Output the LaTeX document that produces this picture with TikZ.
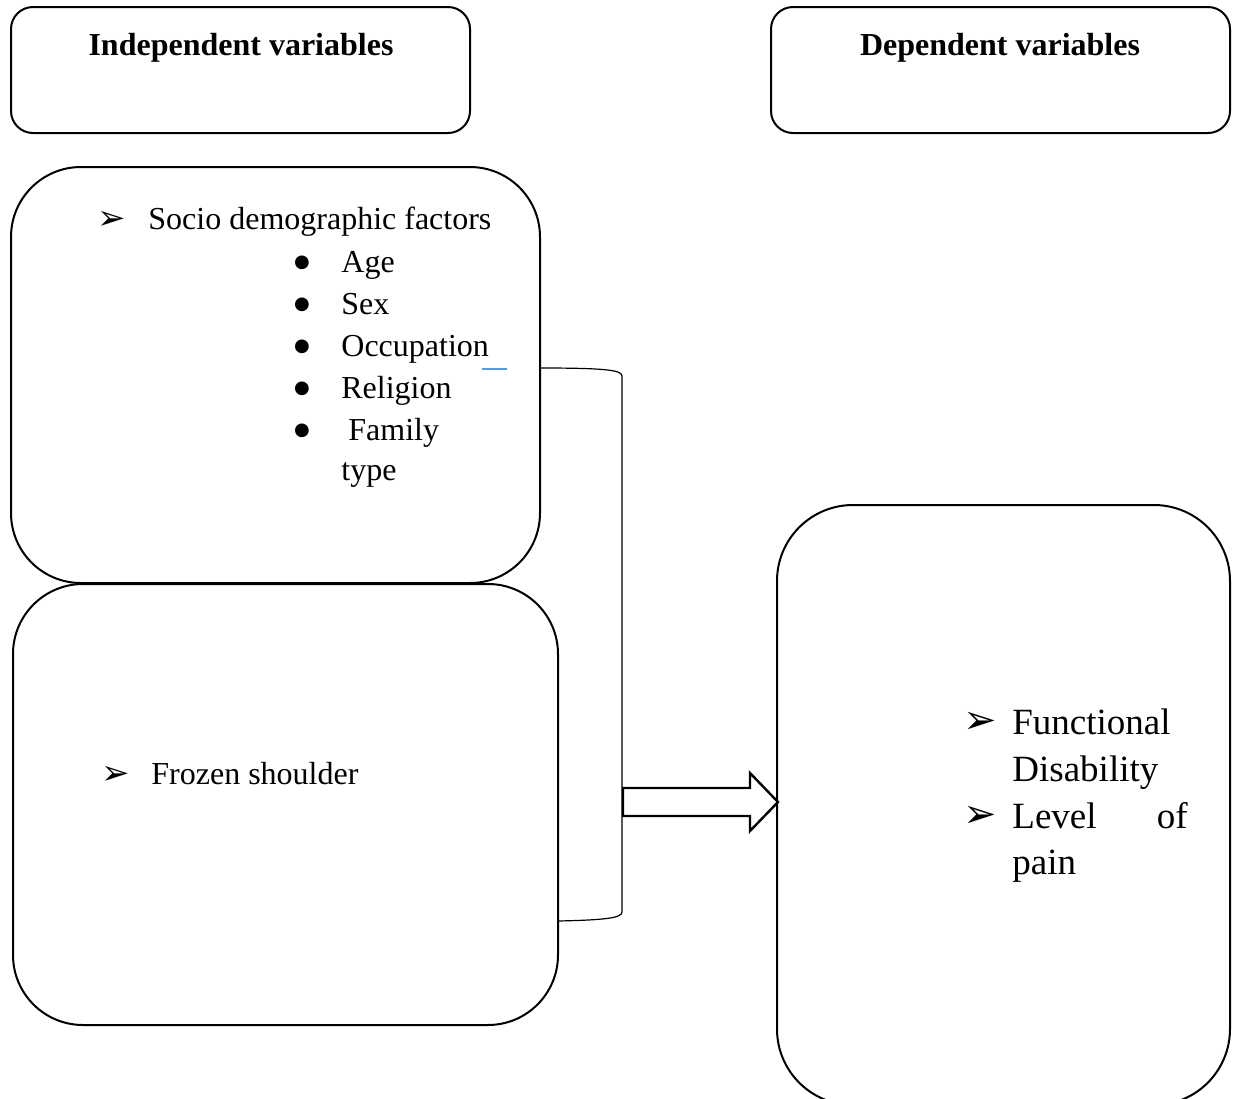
\documentclass[tikz,border=0pt]{standalone}
\usepackage{fontspec}
\setmainfont{Liberation Serif}
\newfontfamily\dingfont{DejaVu Sans}
\definecolor{strayblue}{HTML}{5B9BD5}
\newcommand{\arrowbul}{{\dingfont\fontsize{17pt}{17pt}\selectfont ➢}}
\newcommand{\bigarrowbul}{{\dingfont\fontsize{20pt}{20pt}\selectfont ➢}}
\newcommand{\dotbul}{{\dingfont\fontsize{9pt}{9pt}\selectfont ●}}
\begin{document}
\begin{tikzpicture}[x=0.5pt,y=-0.5pt,
  boxstyle/.style={draw, line width=1pt, inner sep=0pt, outer sep=0pt},
  smalltext/.style={font=\fontsize{16pt}{21pt}\selectfont, inner sep=0pt, anchor=base west},
  headtext/.style={font=\fontsize{16pt}{21pt}\selectfont\bfseries, inner sep=0pt, anchor=base},
  bigtext/.style={font=\fontsize{18.5pt}{23.5pt}\selectfont, inner sep=0pt, anchor=base west},
  bulletstyle/.style={inner sep=0pt, anchor=center},
  bracketline/.style={line width=0.6pt},
  blockarrow/.style={draw, line width=1.2pt, fill=white}]
\useasboundingbox (0,0) rectangle (1239,1099);
\clip (0,0) rectangle (1239,1099);
% header boxes
\node[boxstyle, rounded corners=11pt, minimum width=229.5pt, minimum height=63pt] (indep) at (240.5,70) {};
\node[boxstyle, rounded corners=11pt, minimum width=229.5pt, minimum height=63pt] (dep) at (1000.5,70) {};
\node[headtext] (indeptxt) at (241,55) {Independent variables};
\node[headtext] (deptxt) at (1000,55) {Dependent variables};
% socio box
\node[boxstyle, rounded corners=35pt, minimum width=264.5pt, minimum height=208pt] (socio) at (275.5,375) {};
\node[bulletstyle] (sarrow) at (112,220) {\arrowbul};
\node[smalltext] (sociotxt) at (148,229) {Socio demographic factors};
\foreach \t/\yy/\n in {Age/272/a,Sex/314/b,Occupation/356/c,Religion/398/d}{
  \node[bulletstyle] (bul\n) at (302,\yy-9) {\dotbul};
  \node[smalltext] (item\n) at (341,\yy) {\t};
}
\node[bulletstyle] (bule) at (302,431) {\dotbul};
\node[smalltext] (iteme) at (348,440) {Family};
\node[smalltext] (itemf) at (341,480) {type};
% frozen box
\node[boxstyle, rounded corners=35pt, minimum width=272.5pt, minimum height=220.5pt] (frozen) at (285.5,804.5) {};
\node[bulletstyle] (farrow) at (116,775) {\arrowbul};
\node[smalltext] (frozentxt) at (151,784) {Frozen shoulder};
% right box
\node[boxstyle, rounded corners=38pt, minimum width=226.5pt, minimum height=300pt] (outcome) at (1003.5,805) {};
\node[bulletstyle] (oarrow1) at (980,723) {\bigarrowbul};
\node[bigtext] (func) at (1012,734) {Functional};
\node[bigtext] (disab) at (1012,781) {Disability};
\node[bulletstyle] (oarrow2) at (980,817) {\bigarrowbul};
\node[bigtext] (level) at (1012,828) {Level};
\node[bigtext, anchor=base east] (of) at (1188,828) {of};
\node[bigtext] (pain) at (1012,874) {pain};
% stray blue mark
\coordinate (blueA) at (482,369);
\coordinate (blueB) at (507,369);
\draw[strayblue, line width=0.7pt] (blueA) -- (blueB);
% bracket
\coordinate (brTop) at (540,368);
\coordinate (brTR) at (622,376);
\coordinate (brBR) at (622,912);
\coordinate (brBot) at (558,921);
\draw[bracketline] (brTop) .. controls (605,368) and (622,370) .. (brTR) -- (brBR) .. controls (622,918) and (605,920) .. (brBot);
% block arrow
\coordinate (arA) at (623,788);
\coordinate (arB) at (750,788);
\coordinate (arC) at (750,773);
\coordinate (arTip) at (778,802);
\coordinate (arD) at (750,831);
\coordinate (arE) at (750,816);
\coordinate (arF) at (623,816);
\draw[blockarrow, line join=miter] (arA) -- (arB) -- (arC) -- (arTip) -- (arD) -- (arE) -- (arF) -- cycle;
\end{tikzpicture}
\end{document}
